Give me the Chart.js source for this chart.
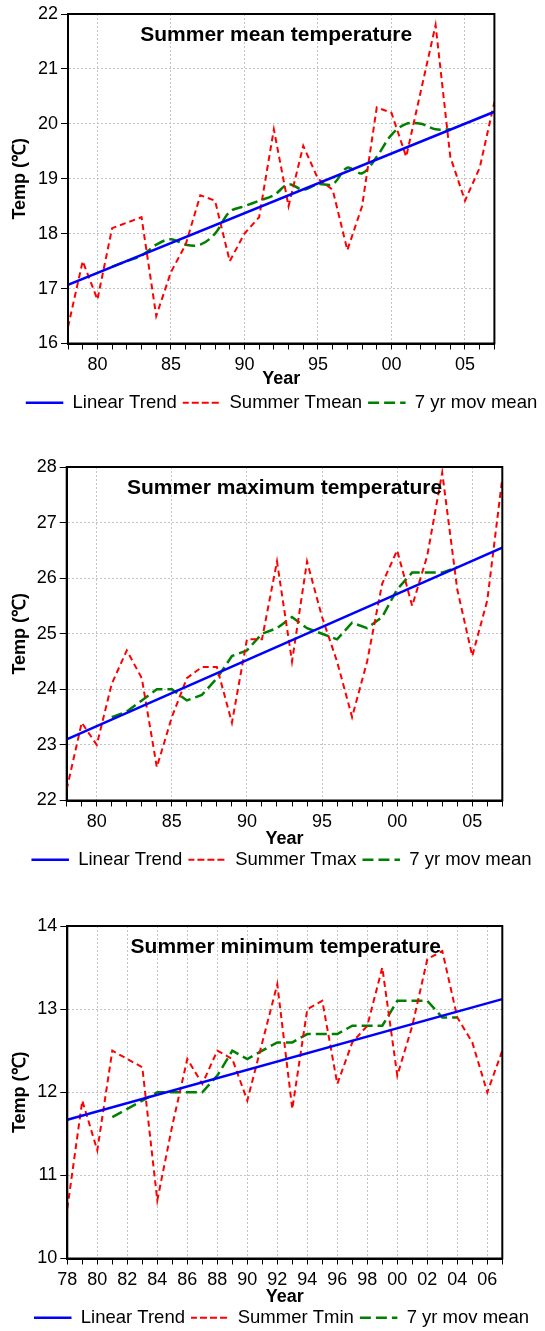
<!DOCTYPE html>
<html>
<head>
<meta charset="utf-8">
<script src="https://cdn.jsdelivr.net/npm/chart.js@4.4.1/dist/chart.umd.min.js"></script>
<style>
  html, body { margin: 0; padding: 0; background: #fff; overflow: hidden; }
  canvas { position: absolute; left: 0; }
</style>
</head>
<body>
<canvas id="meanChart" width="545" height="422" style="top:0px"></canvas>
<canvas id="maxChart" width="545" height="426" style="top:453px"></canvas>
<canvas id="minChart" width="545" height="425" style="top:912px"></canvas>
<script>
// Years on the x axis
const years = [1978, 1979, 1980, 1981, 1982, 1983, 1984, 1985, 1986, 1987,
               1988, 1989, 1990, 1991, 1992, 1993, 1994, 1995, 1996, 1997,
               1998, 1999, 2000, 2001, 2002, 2003, 2004, 2005, 2006, 2007];

// Summer mean temperature
const tmean = [16.3, 17.5, 16.8, 18.1, 18.2, 18.3, 16.5, 17.3, 17.8, 18.7,
               18.6, 17.5, 18.0, 18.3, 19.9, 18.5, 19.6, 19.0, 18.8, 17.7,
               18.5, 20.3, 20.2, 19.4, 20.6, 21.8, 19.4, 18.6, 19.2, 20.4];
const tmeanMov = [null, null, null, 17.4, 17.5, 17.6, 17.8, 17.9, 17.8, 17.8,
                  18.0, 18.4, 18.5, 18.6, 18.7, 18.9, 18.8, 18.9, 18.9, 19.2,
                  19.1, 19.4, 19.8, 20.0, 20.0, 19.9, 19.9, null, null, null];
const tmeanTrend = [17.07, 20.22];   // fitted values at 1978 and 2007
const tmeanTicks = [16, 17, 18, 19, 20, 21, 22];

// Summer maximum temperature
const tmax = [22.2, 23.4, 23.0, 24.1, 24.7, 24.2, 22.6, 23.5, 24.2, 24.4,
              24.4, 23.4, 24.9, 24.9, 26.3, 24.5, 26.3, 25.3, 24.5, 23.5,
              24.5, 25.9, 26.5, 25.5, 26.4, 27.9, 25.8, 24.6, 25.6, 27.8];
const tmaxMov = [null, null, null, 23.5, 23.6, 23.8, 24.0, 24.0, 23.8, 23.9,
                 24.2, 24.6, 24.7, 25.0, 25.1, 25.3, 25.1, 25.0, 24.9, 25.2,
                 25.1, 25.3, 25.8, 26.1, 26.1, 26.1, 26.2, null, null, null];
const tmaxTrend = [23.1, 26.55];
const tmaxTicks = [22, 23, 24, 25, 26, 27, 28];

// Summer minimum temperature
const tmin = [10.6, 11.9, 11.3, 12.5, 12.4, 12.3, 10.7, 11.6, 12.4, 12.1,
              12.5, 12.4, 11.9, 12.6, 13.3, 11.8, 13.0, 13.1, 12.1, 12.6,
              12.8, 13.5, 12.2, 12.8, 13.6, 13.7, 12.9, 12.6, 12.0, 12.5];
const tminMov = [null, null, null, 11.7, 11.8, 11.9, 12.0, 12.0, 12.0, 12.0,
                 12.2, 12.5, 12.4, 12.5, 12.6, 12.6, 12.7, 12.7, 12.7, 12.8,
                 12.8, 12.8, 13.1, 13.1, 13.1, 12.9, 12.9, null, null, null];
const tminTrend = [11.67, 13.12];
const tminTicks = [10, 11, 12, 13, 14];

// Years that get a label and a vertical grid line
const fiveYearLabels = [1980, 1985, 1990, 1995, 2000, 2005];
const twoYearLabels = [1978, 1980, 1982, 1984, 1986, 1988, 1990, 1992, 1994,
                       1996, 1998, 2000, 2002, 2004, 2006];

const FONT = '"Liberation Sans", Arial, Helvetica, sans-serif';
const GRID = '#c4c4c4';
const PAD_LEFT = 18;   // shifts the legend a little to the right

// black box round the plot area plus the heading inside it
const framePlugin = {
  id: 'frame',
  afterDatasetsDraw(chart, args, opts) {
    const { ctx, chartArea: a } = chart;
    ctx.save();
    ctx.strokeStyle = '#000';
    ctx.lineWidth = 2;
    ctx.strokeRect(a.left, a.top, a.right - a.left, a.bottom - a.top);
    ctx.font = 'bold 21px ' + FONT;
    ctx.fillStyle = '#000';
    ctx.textAlign = 'center';
    ctx.textBaseline = 'alphabetic';
    ctx.fillText(opts.text, (a.left + a.right) / 2 + (opts.dx || 0), a.top + 26.5);
    ctx.restore();
  }
};

function makeChart(id, cfg) {
  const ctx = document.getElementById(id).getContext('2d');
  return new Chart(ctx, {
    type: 'line',
    data: {
      labels: years,
      datasets: [
        {
          label: 'Linear Trend',
          data: [{ x: years[0], y: cfg.trend[0] }, { x: years[years.length - 1], y: cfg.trend[1] }],
          borderColor: '#0000ff',
          borderWidth: 2.5,
          pointRadius: 0
        },
        {
          label: cfg.seriesLabel,
          data: cfg.series,
          borderColor: '#ff0000',
          borderWidth: 2,
          borderDash: [6, 4],
          pointRadius: 0
        },
        {
          label: '7 yr mov mean',
          data: cfg.mov,
          borderColor: '#008000',
          borderWidth: 2.5,
          borderDash: [11, 5],
          tension: cfg.smooth ? 0.35 : 0,
          pointRadius: 0
        }
      ]
    },
    options: {
      responsive: false,
      animation: false,
      layout: { padding: { top: 14, right: 0, left: PAD_LEFT, bottom: 0 } },
      plugins: {
        frame: { text: cfg.title, dx: cfg.titleDx },
        tooltip: { enabled: false },
        legend: {
          position: 'bottom',
          labels: {
            boxWidth: 37.5,
            boxHeight: 0,
            color: '#000',
            padding: 6,
            font: { family: FONT, size: 18.5 }
          }
        }
      },
      scales: {
        x: {
          type: 'linear',
          min: years[0],
          max: years[years.length - 1],
          afterBuildTicks: s => { s.ticks = years.map(v => ({ value: v })); },
          afterFit: s => { s.height = 44; },
          ticks: {
            autoSkip: false,
            maxRotation: 0,
            padding: 5,
            color: '#000',
            font: { family: FONT, size: 18 },
            callback: v => cfg.xLabels.includes(v) ? String(v % 100).padStart(2, '0') : ''
          },
          grid: {
            color: c => (c.tick && cfg.xLabels.includes(c.tick.value)) ? GRID : 'rgba(0,0,0,0)',
            tickColor: '#000',
            tickLength: 6,
            lineWidth: 1
          },
          border: { color: '#000', width: 2, dash: [2, 2] },
          title: {
            display: true,
            text: 'Year',
            color: '#000',
            padding: { top: 0, bottom: cfg.yearPad },
            font: { family: FONT, size: 18, weight: 'bold' }
          }
        },
        y: {
          min: cfg.yTicks[0],
          max: cfg.yTicks[cfg.yTicks.length - 1],
          afterBuildTicks: s => { s.ticks = cfg.yTicks.map(v => ({ value: v })); },
          afterFit: s => { s.width = cfg.yWidth - PAD_LEFT; },
          ticks: {
            padding: 3,
            color: '#000',
            font: { family: FONT, size: 18 }
          },
          grid: { color: GRID, tickColor: '#000', tickLength: 7, lineWidth: 1 },
          border: { color: '#000', width: 2, dash: [2, 2] },
          title: {
            display: true,
            text: 'Temp (℃)',
            color: '#000',
            padding: { top: -9, bottom: 0 },
            font: { family: FONT, size: 18, weight: 'bold' }
          }
        },
        // empty right-hand axis, only keeps the plot clear of the right edge
        spacer: {
          position: 'right',
          ticks: { display: false },
          grid: { display: false, drawTicks: false },
          border: { display: false },
          afterFit: s => { s.width = cfg.padRight; }
        }
      }
    },
    plugins: [framePlugin]
  });
}

makeChart('meanChart', {
  title: 'Summer mean temperature', titleDx: -5, yearPad: -2,
  seriesLabel: 'Summer Tmean',
  series: tmean, mov: tmeanMov, trend: tmeanTrend, yTicks: tmeanTicks,
  xLabels: fiveYearLabels, yWidth: 68, padRight: 50.6, smooth: true
});

makeChart('maxChart', {
  title: 'Summer maximum temperature', titleDx: 0, yearPad: -5,
  seriesLabel: 'Summer Tmax',
  series: tmax, mov: tmaxMov, trend: tmaxTrend, yTicks: tmaxTicks,
  xLabels: fiveYearLabels, yWidth: 66.7, padRight: 42.7, smooth: false
});

makeChart('minChart', {
  title: 'Summer minimum temperature', titleDx: 1, yearPad: -5,
  seriesLabel: 'Summer Tmin',
  series: tmin, mov: tminMov, trend: tminTrend, yTicks: tminTicks,
  xLabels: twoYearLabels, yWidth: 67.3, padRight: 42.7, smooth: false
});
</script>
</body>
</html>
